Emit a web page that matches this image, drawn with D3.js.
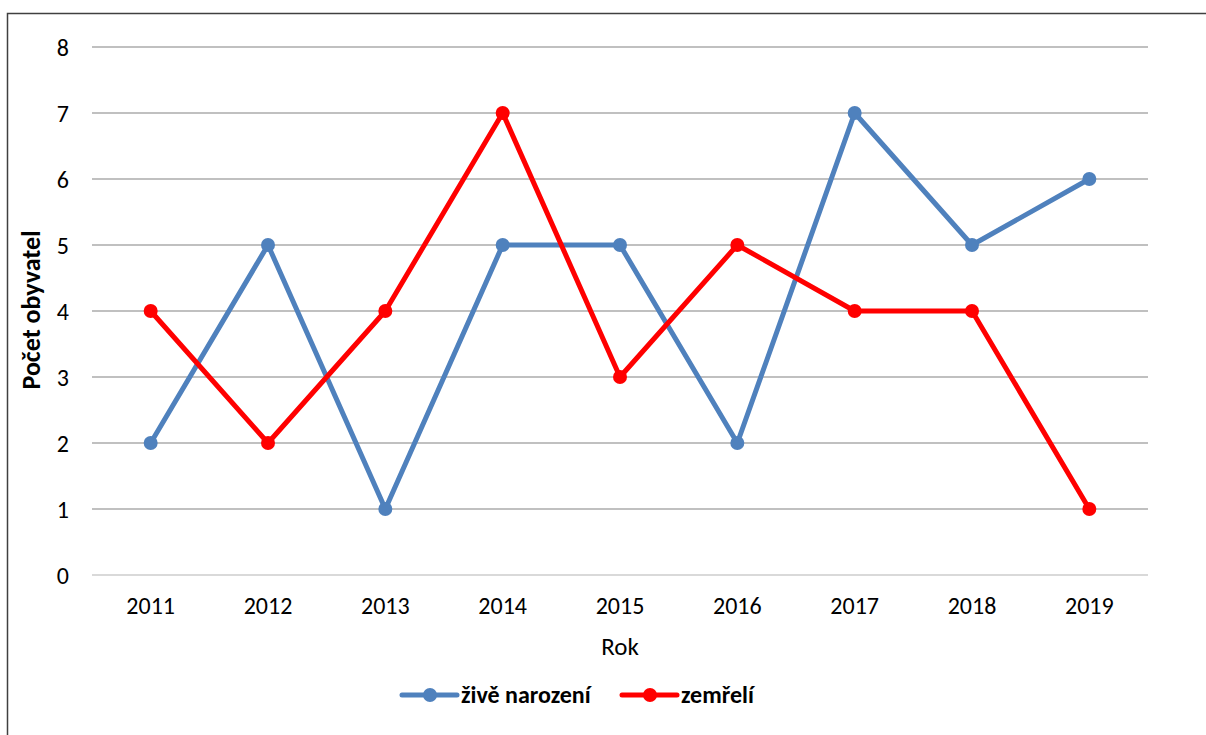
<!DOCTYPE html>
<html><head><meta charset="utf-8">
<script src="https://cdn.jsdelivr.net/npm/d3@7"></script>
<style>body{margin:0;background:#fff}svg{display:block}</style>
</head><body>
<script>
const years = ["2011","2012","2013","2014","2015","2016","2017","2018","2019"];
const zive = [2,5,1,5,5,2,7,5,6];
const zemreli = [4,2,4,7,3,5,4,4,1];
const yTicks = [0,1,2,3,4,5,6,7,8];
const seriesNames = ["živě narození","zemřelí"];
const colors = ["#4f81bd","#ff0000"];

const W=1206,H=735;
const svg=d3.select("body").append("svg").attr("width",W).attr("height",H);
const font="Carlito, Calibri, 'Open Sans', sans-serif";
svg.append("rect").attr("x",7.5).attr("y",13.5).attr("width",W).attr("height",H).attr("fill","none").attr("stroke","#404040").attr("stroke-width",1.5);

const x=d3.scaleBand().domain(years).range([92,1148]);
const y=d3.scaleLinear().domain([0,8]).range([575,47]);

const g=svg.append("g");
g.selectAll("line.grid").data(yTicks).join("line")
 .attr("x1",92).attr("x2",1148).attr("y1",d=>y(d)).attr("y2",d=>y(d))
 .attr("stroke",d=>d===0?"#d9d9d9":"#c0c0c0").attr("stroke-width",2);

const yAxis=d3.axisLeft(y).tickValues(yTicks).tickSize(0).tickPadding(0);
const ya=svg.append("g").attr("transform","translate(69,0)").call(yAxis);
ya.select(".domain").remove();
ya.selectAll("text").attr("font-family",font).attr("font-size",24).attr("fill","#000").attr("dy","0.35em");

const xAxis=d3.axisBottom(x).tickSize(0).tickPadding(0);
const xa=svg.append("g").attr("transform","translate(0,606)").call(xAxis);
xa.select(".domain").remove();
xa.selectAll("text").attr("font-family",font).attr("font-size",24).attr("fill","#000").attr("y",0).attr("dy","0.35em");

svg.append("text").attr("x",620).attr("y",655).attr("text-anchor","middle").attr("font-family",font).attr("font-size",25).text("Rok");
svg.append("text").attr("transform","translate(40,310) rotate(-90)").attr("text-anchor","middle").attr("font-family",font).attr("font-size",26).attr("font-weight","bold").text("Počet obyvatel");

const cx=d=>x(d)+x.bandwidth()/2;
[zive,zemreli].forEach((vals,i)=>{
  const data=years.map((yr,j)=>({yr,v:vals[j]}));
  svg.append("path").datum(data).attr("fill","none").attr("stroke",colors[i]).attr("stroke-width",5).attr("stroke-linejoin","round")
   .attr("d",d3.line().x(d=>cx(d.yr)).y(d=>y(d.v)));
  svg.append("g").selectAll("circle").data(data).join("circle").attr("cx",d=>cx(d.yr)).attr("cy",d=>y(d.v)).attr("r",7).attr("fill",colors[i]);
});

const leg=[{x:402,c:colors[0],t:seriesNames[0]},{x:622,c:colors[1],t:seriesNames[1]}];
leg.forEach(l=>{
  svg.append("line").attr("x1",l.x).attr("x2",l.x+55).attr("y1",695).attr("y2",695).attr("stroke",l.c).attr("stroke-width",5).attr("stroke-linecap","round");
  svg.append("circle").attr("cx",l.x+28).attr("cy",695).attr("r",7).attr("fill",l.c);
  svg.append("text").attr("x",l.x+59).attr("y",703).attr("font-family",font).attr("font-size",24).attr("font-weight","bold").text(l.t);
});
</script>
</body></html>
